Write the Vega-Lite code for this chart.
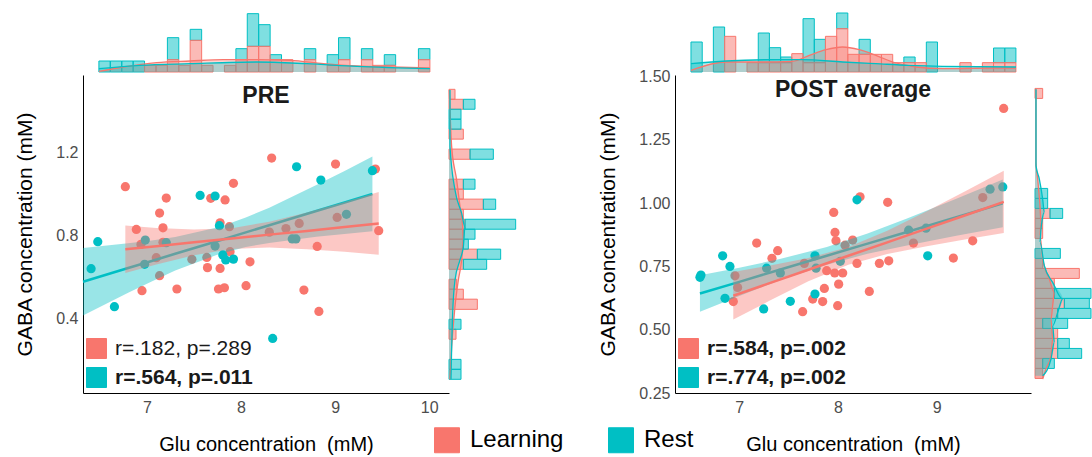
{
  "$schema": "https://vega.github.io/schema/vega-lite/v6.json",
  "background": "white",
  "padding": {"left": 14, "top": 0, "right": 0, "bottom": 0},
  "config": {
    "view": {"stroke": null},
    "font": "Liberation Sans",
    "axis": {"grid": false, "ticks": false, "domainColor": "#000000", "domainWidth": 1, "labelColor": "#4d4d4d", "labelFontSize": 16, "labelFont": "Liberation Sans", "titleFont": "Liberation Sans", "titleFontSize": 20, "titleFontWeight": "normal", "titleColor": "#000000"}
  },
  "datasets": {
    "pts": [
      {"panel": "PRE", "group": "Learning", "glu": 6.77, "gaba": 1.033},
      {"panel": "PRE", "group": "Learning", "glu": 6.887, "gaba": 0.827},
      {"panel": "PRE", "group": "Learning", "glu": 6.936, "gaba": 0.755},
      {"panel": "PRE", "group": "Learning", "glu": 6.947, "gaba": 0.532},
      {"panel": "PRE", "group": "Learning", "glu": 7.099, "gaba": 0.691},
      {"panel": "PRE", "group": "Learning", "glu": 7.134, "gaba": 0.906},
      {"panel": "PRE", "group": "Learning", "glu": 7.17, "gaba": 0.835},
      {"panel": "PRE", "group": "Learning", "glu": 7.205, "gaba": 0.978},
      {"panel": "PRE", "group": "Learning", "glu": 7.17, "gaba": 0.765},
      {"panel": "PRE", "group": "Learning", "glu": 7.134, "gaba": 0.604},
      {"panel": "PRE", "group": "Learning", "glu": 7.318, "gaba": 0.54},
      {"panel": "PRE", "group": "Learning", "glu": 7.477, "gaba": 0.683},
      {"panel": "PRE", "group": "Learning", "glu": 7.636, "gaba": 0.692},
      {"panel": "PRE", "group": "Learning", "glu": 7.643, "gaba": 0.643},
      {"panel": "PRE", "group": "Learning", "glu": 7.678, "gaba": 0.977},
      {"panel": "PRE", "group": "Learning", "glu": 7.777, "gaba": 0.639},
      {"panel": "PRE", "group": "Learning", "glu": 7.76, "gaba": 0.54},
      {"panel": "PRE", "group": "Learning", "glu": 7.823, "gaba": 0.546},
      {"panel": "PRE", "group": "Learning", "glu": 7.777, "gaba": 0.859},
      {"panel": "PRE", "group": "Learning", "glu": 7.83, "gaba": 0.969},
      {"panel": "PRE", "group": "Learning", "glu": 7.919, "gaba": 1.049},
      {"panel": "PRE", "group": "Learning", "glu": 7.876, "gaba": 0.84},
      {"panel": "PRE", "group": "Learning", "glu": 7.883, "gaba": 0.72},
      {"panel": "PRE", "group": "Learning", "glu": 8.053, "gaba": 0.556},
      {"panel": "PRE", "group": "Learning", "glu": 8.095, "gaba": 0.671},
      {"panel": "PRE", "group": "Learning", "glu": 8.3, "gaba": 0.814},
      {"panel": "PRE", "group": "Learning", "glu": 8.325, "gaba": 1.171},
      {"panel": "PRE", "group": "Learning", "glu": 8.477, "gaba": 0.831},
      {"panel": "PRE", "group": "Learning", "glu": 8.618, "gaba": 0.856},
      {"panel": "PRE", "group": "Learning", "glu": 8.668, "gaba": 0.535},
      {"panel": "PRE", "group": "Learning", "glu": 8.809, "gaba": 0.745},
      {"panel": "PRE", "group": "Learning", "glu": 8.827, "gaba": 0.432},
      {"panel": "PRE", "group": "Learning", "glu": 9.004, "gaba": 1.142},
      {"panel": "PRE", "group": "Learning", "glu": 9.021, "gaba": 0.885},
      {"panel": "PRE", "group": "Learning", "glu": 9.428, "gaba": 1.118},
      {"panel": "PRE", "group": "Learning", "glu": 9.463, "gaba": 0.821},
      {"panel": "PRE", "group": "Rest", "glu": 6.406, "gaba": 0.638},
      {"panel": "PRE", "group": "Rest", "glu": 6.477, "gaba": 0.768},
      {"panel": "PRE", "group": "Rest", "glu": 6.654, "gaba": 0.455},
      {"panel": "PRE", "group": "Rest", "glu": 6.982, "gaba": 0.776},
      {"panel": "PRE", "group": "Rest", "glu": 6.975, "gaba": 0.659},
      {"panel": "PRE", "group": "Rest", "glu": 7.205, "gaba": 0.763},
      {"panel": "PRE", "group": "Rest", "glu": 7.565, "gaba": 0.991},
      {"panel": "PRE", "group": "Rest", "glu": 7.724, "gaba": 0.988},
      {"panel": "PRE", "group": "Rest", "glu": 7.724, "gaba": 0.747},
      {"panel": "PRE", "group": "Rest", "glu": 7.77, "gaba": 0.845},
      {"panel": "PRE", "group": "Rest", "glu": 7.806, "gaba": 0.704},
      {"panel": "PRE", "group": "Rest", "glu": 7.837, "gaba": 0.68},
      {"panel": "PRE", "group": "Rest", "glu": 7.919, "gaba": 0.684},
      {"panel": "PRE", "group": "Rest", "glu": 8.336, "gaba": 0.302},
      {"panel": "PRE", "group": "Rest", "glu": 8.544, "gaba": 0.781},
      {"panel": "PRE", "group": "Rest", "glu": 8.583, "gaba": 0.781},
      {"panel": "PRE", "group": "Rest", "glu": 8.59, "gaba": 1.129},
      {"panel": "PRE", "group": "Rest", "glu": 8.848, "gaba": 1.065},
      {"panel": "PRE", "group": "Rest", "glu": 9.12, "gaba": 0.9},
      {"panel": "PRE", "group": "Rest", "glu": 9.396, "gaba": 1.11},
      {"panel": "POST", "group": "Learning", "glu": 6.939, "gaba": 0.611},
      {"panel": "POST", "group": "Learning", "glu": 6.956, "gaba": 0.713},
      {"panel": "POST", "group": "Learning", "glu": 6.983, "gaba": 0.667},
      {"panel": "POST", "group": "Learning", "glu": 7.176, "gaba": 0.842},
      {"panel": "POST", "group": "Learning", "glu": 7.331, "gaba": 0.782},
      {"panel": "POST", "group": "Learning", "glu": 7.389, "gaba": 0.812},
      {"panel": "POST", "group": "Learning", "glu": 7.642, "gaba": 0.571},
      {"panel": "POST", "group": "Learning", "glu": 7.659, "gaba": 0.762},
      {"panel": "POST", "group": "Learning", "glu": 7.744, "gaba": 0.621},
      {"panel": "POST", "group": "Learning", "glu": 7.845, "gaba": 0.611},
      {"panel": "POST", "group": "Learning", "glu": 7.862, "gaba": 0.663},
      {"panel": "POST", "group": "Learning", "glu": 7.886, "gaba": 0.733},
      {"panel": "POST", "group": "Learning", "glu": 7.957, "gaba": 0.963},
      {"panel": "POST", "group": "Learning", "glu": 7.97, "gaba": 0.884},
      {"panel": "POST", "group": "Learning", "glu": 7.98, "gaba": 0.851},
      {"panel": "POST", "group": "Learning", "glu": 7.967, "gaba": 0.724},
      {"panel": "POST", "group": "Learning", "glu": 8.007, "gaba": 0.68},
      {"panel": "POST", "group": "Learning", "glu": 7.997, "gaba": 0.595},
      {"panel": "POST", "group": "Learning", "glu": 8.048, "gaba": 0.724},
      {"panel": "POST", "group": "Learning", "glu": 8.072, "gaba": 0.834},
      {"panel": "POST", "group": "Learning", "glu": 8.149, "gaba": 0.854},
      {"panel": "POST", "group": "Learning", "glu": 8.193, "gaba": 0.762},
      {"panel": "POST", "group": "Learning", "glu": 8.224, "gaba": 1.025},
      {"panel": "POST", "group": "Learning", "glu": 8.318, "gaba": 0.651},
      {"panel": "POST", "group": "Learning", "glu": 8.42, "gaba": 0.762},
      {"panel": "POST", "group": "Learning", "glu": 8.515, "gaba": 0.772},
      {"panel": "POST", "group": "Learning", "glu": 8.504, "gaba": 1.003},
      {"panel": "POST", "group": "Learning", "glu": 8.765, "gaba": 0.842},
      {"panel": "POST", "group": "Learning", "glu": 9.17, "gaba": 0.783},
      {"panel": "POST", "group": "Learning", "glu": 9.366, "gaba": 0.851},
      {"panel": "POST", "group": "Learning", "glu": 9.468, "gaba": 1.022},
      {"panel": "POST", "group": "Learning", "glu": 9.68, "gaba": 1.374},
      {"panel": "POST", "group": "Rest", "glu": 6.601, "gaba": 0.707},
      {"panel": "POST", "group": "Rest", "glu": 6.611, "gaba": 0.716},
      {"panel": "POST", "group": "Rest", "glu": 6.831, "gaba": 0.792},
      {"panel": "POST", "group": "Rest", "glu": 6.905, "gaba": 0.75},
      {"panel": "POST", "group": "Rest", "glu": 6.855, "gaba": 0.624},
      {"panel": "POST", "group": "Rest", "glu": 7.247, "gaba": 0.582},
      {"panel": "POST", "group": "Rest", "glu": 7.277, "gaba": 0.743},
      {"panel": "POST", "group": "Rest", "glu": 7.416, "gaba": 0.724},
      {"panel": "POST", "group": "Rest", "glu": 7.517, "gaba": 0.612},
      {"panel": "POST", "group": "Rest", "glu": 7.767, "gaba": 0.792},
      {"panel": "POST", "group": "Rest", "glu": 7.778, "gaba": 0.743},
      {"panel": "POST", "group": "Rest", "glu": 7.767, "gaba": 0.641},
      {"panel": "POST", "group": "Rest", "glu": 8.024, "gaba": 0.77},
      {"panel": "POST", "group": "Rest", "glu": 8.193, "gaba": 1.013},
      {"panel": "POST", "group": "Rest", "glu": 8.717, "gaba": 0.893},
      {"panel": "POST", "group": "Rest", "glu": 8.893, "gaba": 0.901},
      {"panel": "POST", "group": "Rest", "glu": 8.91, "gaba": 0.792},
      {"panel": "POST", "group": "Rest", "glu": 9.542, "gaba": 1.055},
      {"panel": "POST", "group": "Rest", "glu": 9.671, "gaba": 1.064}
    ],
    "fit": [
      {"panel": "PRE", "group": "Rest", "glu": 6.32, "fit": 0.575, "lo": 0.412, "hi": 0.738},
      {"panel": "PRE", "group": "Rest", "glu": 6.8, "fit": 0.641, "lo": 0.522, "hi": 0.76},
      {"panel": "PRE", "group": "Rest", "glu": 7.05, "fit": 0.675, "lo": 0.576, "hi": 0.774},
      {"panel": "PRE", "group": "Rest", "glu": 7.3, "fit": 0.71, "lo": 0.629, "hi": 0.791},
      {"panel": "PRE", "group": "Rest", "glu": 7.77, "fit": 0.774, "lo": 0.709, "hi": 0.839},
      {"panel": "PRE", "group": "Rest", "glu": 8.05, "fit": 0.813, "lo": 0.742, "hi": 0.884},
      {"panel": "PRE", "group": "Rest", "glu": 8.3, "fit": 0.847, "lo": 0.762, "hi": 0.932},
      {"panel": "PRE", "group": "Rest", "glu": 8.8, "fit": 0.916, "lo": 0.792, "hi": 1.041},
      {"panel": "PRE", "group": "Rest", "glu": 9.1, "fit": 0.957, "lo": 0.805, "hi": 1.109},
      {"panel": "PRE", "group": "Rest", "glu": 9.396, "fit": 0.998, "lo": 0.818, "hi": 1.178},
      {"panel": "PRE", "group": "Learning", "glu": 6.77, "fit": 0.731, "lo": 0.617, "hi": 0.846},
      {"panel": "PRE", "group": "Learning", "glu": 7.1, "fit": 0.746, "lo": 0.658, "hi": 0.834},
      {"panel": "PRE", "group": "Learning", "glu": 7.5, "fit": 0.765, "lo": 0.703, "hi": 0.827},
      {"panel": "PRE", "group": "Learning", "glu": 7.9, "fit": 0.783, "lo": 0.733, "hi": 0.833},
      {"panel": "PRE", "group": "Learning", "glu": 8.3, "fit": 0.802, "lo": 0.74, "hi": 0.864},
      {"panel": "PRE", "group": "Learning", "glu": 8.7, "fit": 0.82, "lo": 0.732, "hi": 0.908},
      {"panel": "PRE", "group": "Learning", "glu": 9.1, "fit": 0.839, "lo": 0.719, "hi": 0.959},
      {"panel": "PRE", "group": "Learning", "glu": 9.463, "fit": 0.856, "lo": 0.705, "hi": 1.007},
      {"panel": "POST", "group": "Rest", "glu": 6.601, "fit": 0.643, "lo": 0.571, "hi": 0.715},
      {"panel": "POST", "group": "Rest", "glu": 7.0, "fit": 0.689, "lo": 0.633, "hi": 0.745},
      {"panel": "POST", "group": "Rest", "glu": 7.4, "fit": 0.736, "lo": 0.694, "hi": 0.778},
      {"panel": "POST", "group": "Rest", "glu": 7.887, "fit": 0.792, "lo": 0.757, "hi": 0.827},
      {"panel": "POST", "group": "Rest", "glu": 8.3, "fit": 0.84, "lo": 0.8, "hi": 0.88},
      {"panel": "POST", "group": "Rest", "glu": 8.7, "fit": 0.886, "lo": 0.833, "hi": 0.939},
      {"panel": "POST", "group": "Rest", "glu": 9.2, "fit": 0.944, "lo": 0.871, "hi": 1.017},
      {"panel": "POST", "group": "Rest", "glu": 9.671, "fit": 0.999, "lo": 0.905, "hi": 1.093},
      {"panel": "POST", "group": "Learning", "glu": 6.939, "fit": 0.634, "lo": 0.54, "hi": 0.728},
      {"panel": "POST", "group": "Learning", "glu": 7.3, "fit": 0.683, "lo": 0.613, "hi": 0.753},
      {"panel": "POST", "group": "Learning", "glu": 7.7, "fit": 0.737, "lo": 0.691, "hi": 0.783},
      {"panel": "POST", "group": "Learning", "glu": 8.105, "fit": 0.792, "lo": 0.757, "hi": 0.827},
      {"panel": "POST", "group": "Learning", "glu": 8.5, "fit": 0.845, "lo": 0.799, "hi": 0.891},
      {"panel": "POST", "group": "Learning", "glu": 8.9, "fit": 0.899, "lo": 0.83, "hi": 0.968},
      {"panel": "POST", "group": "Learning", "glu": 9.3, "fit": 0.953, "lo": 0.857, "hi": 1.049},
      {"panel": "POST", "group": "Learning", "glu": 9.681, "fit": 1.005, "lo": 0.882, "hi": 1.128}
    ],
    "histTop": [
      {"panel": "PRE", "group": "Rest", "x0": 6.489, "x1": 6.61, "n": 3.3},
      {"panel": "PRE", "group": "Rest", "x0": 6.61, "x1": 6.732, "n": 3.3},
      {"panel": "PRE", "group": "Rest", "x0": 6.732, "x1": 6.853, "n": 3.3},
      {"panel": "PRE", "group": "Rest", "x0": 6.853, "x1": 6.974, "n": 3.3},
      {"panel": "PRE", "group": "Rest", "x0": 7.217, "x1": 7.338, "n": 6.6},
      {"panel": "PRE", "group": "Rest", "x0": 7.459, "x1": 7.581, "n": 3.3},
      {"panel": "PRE", "group": "Rest", "x0": 7.945, "x1": 8.066, "n": 3.3},
      {"panel": "PRE", "group": "Rest", "x0": 8.066, "x1": 8.187, "n": 9.8},
      {"panel": "PRE", "group": "Rest", "x0": 8.187, "x1": 8.309, "n": 6.5},
      {"panel": "PRE", "group": "Rest", "x0": 8.309, "x1": 8.43, "n": 1.5},
      {"panel": "PRE", "group": "Rest", "x0": 8.672, "x1": 8.794, "n": 3.3},
      {"panel": "PRE", "group": "Rest", "x0": 8.915, "x1": 9.036, "n": 3.2},
      {"panel": "PRE", "group": "Rest", "x0": 9.036, "x1": 9.158, "n": 6.6},
      {"panel": "PRE", "group": "Rest", "x0": 9.279, "x1": 9.4, "n": 3.3},
      {"panel": "PRE", "group": "Rest", "x0": 9.522, "x1": 9.643, "n": 3.2},
      {"panel": "PRE", "group": "Rest", "x0": 9.885, "x1": 10.007, "n": 3.3},
      {"panel": "PRE", "group": "Learning", "x0": 6.974, "x1": 7.096, "n": 2.0},
      {"panel": "PRE", "group": "Learning", "x0": 7.096, "x1": 7.217, "n": 2.0},
      {"panel": "PRE", "group": "Learning", "x0": 7.217, "x1": 7.338, "n": 3.7},
      {"panel": "PRE", "group": "Learning", "x0": 7.338, "x1": 7.459, "n": 2.0},
      {"panel": "PRE", "group": "Learning", "x0": 7.459, "x1": 7.581, "n": 9.5},
      {"panel": "PRE", "group": "Learning", "x0": 7.581, "x1": 7.702, "n": 2.0},
      {"panel": "PRE", "group": "Learning", "x0": 7.823, "x1": 7.945, "n": 2.0},
      {"panel": "PRE", "group": "Learning", "x0": 7.945, "x1": 8.066, "n": 3.7},
      {"panel": "PRE", "group": "Learning", "x0": 8.066, "x1": 8.187, "n": 7.7},
      {"panel": "PRE", "group": "Learning", "x0": 8.187, "x1": 8.309, "n": 7.7},
      {"panel": "PRE", "group": "Learning", "x0": 8.309, "x1": 8.43, "n": 3.7},
      {"panel": "PRE", "group": "Learning", "x0": 8.43, "x1": 8.551, "n": 3.7},
      {"panel": "PRE", "group": "Learning", "x0": 8.672, "x1": 8.794, "n": 3.7},
      {"panel": "PRE", "group": "Learning", "x0": 8.915, "x1": 9.036, "n": 2.0},
      {"panel": "PRE", "group": "Learning", "x0": 9.036, "x1": 9.158, "n": 3.7},
      {"panel": "PRE", "group": "Learning", "x0": 9.279, "x1": 9.4, "n": 3.7},
      {"panel": "PRE", "group": "Learning", "x0": 9.4, "x1": 9.522, "n": 2.0},
      {"panel": "PRE", "group": "Learning", "x0": 9.522, "x1": 9.643, "n": 2.0},
      {"panel": "PRE", "group": "Learning", "x0": 9.885, "x1": 10.007, "n": 3.7},
      {"panel": "POST", "group": "Rest", "x0": 6.51, "x1": 6.624, "n": 9.0},
      {"panel": "POST", "group": "Rest", "x0": 6.737, "x1": 6.851, "n": 13.5},
      {"panel": "POST", "group": "Rest", "x0": 7.192, "x1": 7.305, "n": 8.9},
      {"panel": "POST", "group": "Rest", "x0": 7.305, "x1": 7.419, "n": 4.5},
      {"panel": "POST", "group": "Rest", "x0": 7.419, "x1": 7.532, "n": 1.7},
      {"panel": "POST", "group": "Rest", "x0": 7.646, "x1": 7.76, "n": 13.2},
      {"panel": "POST", "group": "Rest", "x0": 7.76, "x1": 7.873, "n": 7.0},
      {"panel": "POST", "group": "Rest", "x0": 7.987, "x1": 8.1, "n": 4.7},
      {"panel": "POST", "group": "Rest", "x0": 8.214, "x1": 8.328, "n": 4.5},
      {"panel": "POST", "group": "Rest", "x0": 8.668, "x1": 8.782, "n": 1.7},
      {"panel": "POST", "group": "Rest", "x0": 8.896, "x1": 9.009, "n": 9.0},
      {"panel": "POST", "group": "Rest", "x0": 9.577, "x1": 9.691, "n": 4.4},
      {"panel": "POST", "group": "Rest", "x0": 9.691, "x1": 9.804, "n": 4.4},
      {"panel": "POST", "group": "Learning", "x0": 6.851, "x1": 6.964, "n": 10.7},
      {"panel": "POST", "group": "Learning", "x0": 7.078, "x1": 7.192, "n": 2.8},
      {"panel": "POST", "group": "Learning", "x0": 7.192, "x1": 7.305, "n": 2.8},
      {"panel": "POST", "group": "Learning", "x0": 7.305, "x1": 7.419, "n": 2.8},
      {"panel": "POST", "group": "Learning", "x0": 7.419, "x1": 7.532, "n": 2.8},
      {"panel": "POST", "group": "Learning", "x0": 7.532, "x1": 7.646, "n": 5.5},
      {"panel": "POST", "group": "Learning", "x0": 7.646, "x1": 7.76, "n": 2.8},
      {"panel": "POST", "group": "Learning", "x0": 7.76, "x1": 7.873, "n": 2.8},
      {"panel": "POST", "group": "Learning", "x0": 7.873, "x1": 7.987, "n": 10.7},
      {"panel": "POST", "group": "Learning", "x0": 7.987, "x1": 8.1, "n": 13.0},
      {"panel": "POST", "group": "Learning", "x0": 8.1, "x1": 8.214, "n": 5.3},
      {"panel": "POST", "group": "Learning", "x0": 8.214, "x1": 8.328, "n": 5.3},
      {"panel": "POST", "group": "Learning", "x0": 8.328, "x1": 8.441, "n": 5.3},
      {"panel": "POST", "group": "Learning", "x0": 8.441, "x1": 8.555, "n": 5.3},
      {"panel": "POST", "group": "Learning", "x0": 8.555, "x1": 8.668, "n": 2.8},
      {"panel": "POST", "group": "Learning", "x0": 8.668, "x1": 8.782, "n": 2.8},
      {"panel": "POST", "group": "Learning", "x0": 8.782, "x1": 8.896, "n": 2.8},
      {"panel": "POST", "group": "Learning", "x0": 9.236, "x1": 9.35, "n": 2.8},
      {"panel": "POST", "group": "Learning", "x0": 9.464, "x1": 9.577, "n": 2.8},
      {"panel": "POST", "group": "Learning", "x0": 9.577, "x1": 9.691, "n": 2.8},
      {"panel": "POST", "group": "Learning", "x0": 9.691, "x1": 9.804, "n": 2.8}
    ],
    "histSide": [
      {"panel": "PRE", "group": "Learning", "y0": 1.454, "y1": 1.502, "n": 1.8},
      {"panel": "PRE", "group": "Learning", "y0": 1.406, "y1": 1.454, "n": 4.3},
      {"panel": "PRE", "group": "Learning", "y0": 1.262, "y1": 1.31, "n": 4.3},
      {"panel": "PRE", "group": "Learning", "y0": 1.165, "y1": 1.214, "n": 6.3},
      {"panel": "PRE", "group": "Learning", "y0": 1.021, "y1": 1.069, "n": 4.3},
      {"panel": "PRE", "group": "Learning", "y0": 0.973, "y1": 1.021, "n": 4.3},
      {"panel": "PRE", "group": "Learning", "y0": 0.924, "y1": 0.973, "n": 10.3},
      {"panel": "PRE", "group": "Learning", "y0": 0.876, "y1": 0.924, "n": 4.3},
      {"panel": "PRE", "group": "Learning", "y0": 0.828, "y1": 0.876, "n": 4.8},
      {"panel": "PRE", "group": "Learning", "y0": 0.78, "y1": 0.828, "n": 4.3},
      {"panel": "PRE", "group": "Learning", "y0": 0.732, "y1": 0.78, "n": 4.3},
      {"panel": "PRE", "group": "Learning", "y0": 0.683, "y1": 0.732, "n": 8.5},
      {"panel": "PRE", "group": "Learning", "y0": 0.635, "y1": 0.683, "n": 4.3},
      {"panel": "PRE", "group": "Learning", "y0": 0.539, "y1": 0.587, "n": 2.3},
      {"panel": "PRE", "group": "Learning", "y0": 0.491, "y1": 0.539, "n": 4.3},
      {"panel": "PRE", "group": "Learning", "y0": 0.442, "y1": 0.491, "n": 8.5},
      {"panel": "PRE", "group": "Learning", "y0": 0.298, "y1": 0.346, "n": 2.1},
      {"panel": "PRE", "group": "Rest", "y0": 1.406, "y1": 1.454, "n": 3.5},
      {"panel": "PRE", "group": "Rest", "y0": 1.358, "y1": 1.406, "n": 3.6},
      {"panel": "PRE", "group": "Rest", "y0": 1.31, "y1": 1.358, "n": 3.6},
      {"panel": "PRE", "group": "Rest", "y0": 1.165, "y1": 1.214, "n": 7.0},
      {"panel": "PRE", "group": "Rest", "y0": 1.021, "y1": 1.069, "n": 3.5},
      {"panel": "PRE", "group": "Rest", "y0": 0.924, "y1": 0.973, "n": 3.7},
      {"panel": "PRE", "group": "Rest", "y0": 0.828, "y1": 0.876, "n": 15.2},
      {"panel": "PRE", "group": "Rest", "y0": 0.78, "y1": 0.828, "n": 3.5},
      {"panel": "PRE", "group": "Rest", "y0": 0.732, "y1": 0.78, "n": 1.5},
      {"panel": "PRE", "group": "Rest", "y0": 0.683, "y1": 0.732, "n": 7.0},
      {"panel": "PRE", "group": "Rest", "y0": 0.635, "y1": 0.683, "n": 7.0},
      {"panel": "PRE", "group": "Rest", "y0": 0.346, "y1": 0.394, "n": 3.6},
      {"panel": "PRE", "group": "Rest", "y0": 0.153, "y1": 0.201, "n": 3.6},
      {"panel": "PRE", "group": "Rest", "y0": 0.105, "y1": 0.153, "n": 3.6},
      {"panel": "POST", "group": "Learning", "y0": 1.4135, "y1": 1.453, "n": 2.3},
      {"panel": "POST", "group": "Learning", "y0": 0.9395, "y1": 0.979, "n": 4.5},
      {"panel": "POST", "group": "Learning", "y0": 0.9, "y1": 0.9395, "n": 2.3},
      {"panel": "POST", "group": "Learning", "y0": 0.8605, "y1": 0.9, "n": 2.3},
      {"panel": "POST", "group": "Learning", "y0": 0.742, "y1": 0.7815, "n": 2.3},
      {"panel": "POST", "group": "Learning", "y0": 0.7025, "y1": 0.742, "n": 13.3},
      {"panel": "POST", "group": "Learning", "y0": 0.663, "y1": 0.7025, "n": 5.8},
      {"panel": "POST", "group": "Learning", "y0": 0.6235, "y1": 0.663, "n": 5.8},
      {"panel": "POST", "group": "Learning", "y0": 0.584, "y1": 0.6235, "n": 8.8},
      {"panel": "POST", "group": "Learning", "y0": 0.5445, "y1": 0.584, "n": 6.8},
      {"panel": "POST", "group": "Learning", "y0": 0.505, "y1": 0.5445, "n": 2.3},
      {"panel": "POST", "group": "Learning", "y0": 0.4655, "y1": 0.505, "n": 6.8},
      {"panel": "POST", "group": "Learning", "y0": 0.426, "y1": 0.4655, "n": 6.8},
      {"panel": "POST", "group": "Learning", "y0": 0.3865, "y1": 0.426, "n": 6.8},
      {"panel": "POST", "group": "Learning", "y0": 0.347, "y1": 0.3865, "n": 2.3},
      {"panel": "POST", "group": "Learning", "y0": 0.3075, "y1": 0.347, "n": 2.3},
      {"panel": "POST", "group": "Rest", "y0": 1.0185, "y1": 1.058, "n": 3.8},
      {"panel": "POST", "group": "Rest", "y0": 0.979, "y1": 1.0185, "n": 3.8},
      {"panel": "POST", "group": "Rest", "y0": 0.9395, "y1": 0.979, "n": 3.8},
      {"panel": "POST", "group": "Rest", "y0": 0.7815, "y1": 0.821, "n": 7.6},
      {"panel": "POST", "group": "Rest", "y0": 0.6235, "y1": 0.663, "n": 11.0},
      {"panel": "POST", "group": "Rest", "y0": 0.584, "y1": 0.6235, "n": 7.5},
      {"panel": "POST", "group": "Rest", "y0": 0.5445, "y1": 0.584, "n": 10.0},
      {"panel": "POST", "group": "Rest", "y0": 0.505, "y1": 0.5445, "n": 7.5},
      {"panel": "POST", "group": "Rest", "y0": 0.426, "y1": 0.4655, "n": 3.5},
      {"panel": "POST", "group": "Rest", "y0": 0.3865, "y1": 0.426, "n": 7.2},
      {"panel": "POST", "group": "Rest", "y0": 0.347, "y1": 0.3865, "n": 3.5}
    ],
    "densTop": [
      {"panel": "PRE", "group": "Learning", "x": 6.489, "d": 0.2},
      {"panel": "PRE", "group": "Learning", "x": 6.748, "d": 1.5},
      {"panel": "PRE", "group": "Learning", "x": 7.103, "d": 2.8},
      {"panel": "PRE", "group": "Learning", "x": 7.457, "d": 3.3},
      {"panel": "PRE", "group": "Learning", "x": 7.812, "d": 3.7},
      {"panel": "PRE", "group": "Learning", "x": 8.167, "d": 3.7},
      {"panel": "PRE", "group": "Learning", "x": 8.521, "d": 3.5},
      {"panel": "PRE", "group": "Learning", "x": 8.876, "d": 2.5},
      {"panel": "PRE", "group": "Learning", "x": 9.231, "d": 1.8},
      {"panel": "PRE", "group": "Learning", "x": 9.585, "d": 1.5},
      {"panel": "PRE", "group": "Learning", "x": 10.007, "d": 1.2},
      {"panel": "PRE", "group": "Rest", "x": 6.489, "d": 1.0},
      {"panel": "PRE", "group": "Rest", "x": 6.926, "d": 2.0},
      {"panel": "PRE", "group": "Rest", "x": 7.457, "d": 2.5},
      {"panel": "PRE", "group": "Rest", "x": 8.167, "d": 3.0},
      {"panel": "PRE", "group": "Rest", "x": 8.699, "d": 2.5},
      {"panel": "PRE", "group": "Rest", "x": 9.231, "d": 1.7},
      {"panel": "PRE", "group": "Rest", "x": 10.007, "d": 1.0},
      {"panel": "POST", "group": "Learning", "x": 6.51, "d": 0.5},
      {"panel": "POST", "group": "Learning", "x": 6.865, "d": 3.0},
      {"panel": "POST", "group": "Learning", "x": 7.203, "d": 3.0},
      {"panel": "POST", "group": "Learning", "x": 7.54, "d": 3.2},
      {"panel": "POST", "group": "Learning", "x": 7.71, "d": 5.0},
      {"panel": "POST", "group": "Learning", "x": 7.879, "d": 6.7},
      {"panel": "POST", "group": "Learning", "x": 8.048, "d": 7.5},
      {"panel": "POST", "group": "Learning", "x": 8.216, "d": 6.7},
      {"panel": "POST", "group": "Learning", "x": 8.385, "d": 5.0},
      {"panel": "POST", "group": "Learning", "x": 8.554, "d": 3.0},
      {"panel": "POST", "group": "Learning", "x": 8.791, "d": 1.5},
      {"panel": "POST", "group": "Learning", "x": 9.061, "d": 1.0},
      {"panel": "POST", "group": "Learning", "x": 9.568, "d": 1.2},
      {"panel": "POST", "group": "Learning", "x": 9.805, "d": 1.2},
      {"panel": "POST", "group": "Rest", "x": 6.51, "d": 2.5},
      {"panel": "POST", "group": "Rest", "x": 6.865, "d": 3.3},
      {"panel": "POST", "group": "Rest", "x": 7.372, "d": 3.7},
      {"panel": "POST", "group": "Rest", "x": 7.642, "d": 3.7},
      {"panel": "POST", "group": "Rest", "x": 8.048, "d": 3.0},
      {"panel": "POST", "group": "Rest", "x": 8.385, "d": 2.5},
      {"panel": "POST", "group": "Rest", "x": 8.723, "d": 2.0},
      {"panel": "POST", "group": "Rest", "x": 9.061, "d": 1.7},
      {"panel": "POST", "group": "Rest", "x": 9.805, "d": 1.5}
    ],
    "densSide": [
      {"panel": "PRE", "group": "Learning", "y": 0.105, "d": 0.3},
      {"panel": "PRE", "group": "Learning", "y": 0.262, "d": 0.8},
      {"panel": "PRE", "group": "Learning", "y": 0.455, "d": 1.8},
      {"panel": "PRE", "group": "Learning", "y": 0.583, "d": 2.8},
      {"panel": "PRE", "group": "Learning", "y": 0.68, "d": 3.8},
      {"panel": "PRE", "group": "Learning", "y": 0.776, "d": 4.3},
      {"panel": "PRE", "group": "Learning", "y": 0.84, "d": 4.1},
      {"panel": "PRE", "group": "Learning", "y": 0.937, "d": 3.3},
      {"panel": "PRE", "group": "Learning", "y": 1.065, "d": 2.3},
      {"panel": "PRE", "group": "Learning", "y": 1.226, "d": 0.8},
      {"panel": "PRE", "group": "Learning", "y": 1.499, "d": 0.1},
      {"panel": "PRE", "group": "Rest", "y": 0.105, "d": 0.6},
      {"panel": "PRE", "group": "Rest", "y": 0.262, "d": 0.8},
      {"panel": "PRE", "group": "Rest", "y": 0.423, "d": 1.1},
      {"panel": "PRE", "group": "Rest", "y": 0.583, "d": 1.8},
      {"panel": "PRE", "group": "Rest", "y": 0.68, "d": 3.3},
      {"panel": "PRE", "group": "Rest", "y": 0.744, "d": 4.3},
      {"panel": "PRE", "group": "Rest", "y": 0.84, "d": 4.8},
      {"panel": "PRE", "group": "Rest", "y": 0.904, "d": 3.8},
      {"panel": "PRE", "group": "Rest", "y": 1.017, "d": 1.8},
      {"panel": "PRE", "group": "Rest", "y": 1.226, "d": 0.3},
      {"panel": "PRE", "group": "Rest", "y": 1.499, "d": 0.3},
      {"panel": "POST", "group": "Learning", "y": 0.305, "d": 2.3},
      {"panel": "POST", "group": "Learning", "y": 0.345, "d": 3.3},
      {"panel": "POST", "group": "Learning", "y": 0.397, "d": 4.8},
      {"panel": "POST", "group": "Learning", "y": 0.463, "d": 5.3},
      {"panel": "POST", "group": "Learning", "y": 0.542, "d": 4.8},
      {"panel": "POST", "group": "Learning", "y": 0.595, "d": 5.3},
      {"panel": "POST", "group": "Learning", "y": 0.647, "d": 5.8},
      {"panel": "POST", "group": "Learning", "y": 0.7, "d": 4.3},
      {"panel": "POST", "group": "Learning", "y": 0.779, "d": 2.3},
      {"panel": "POST", "group": "Learning", "y": 0.871, "d": 1.5},
      {"panel": "POST", "group": "Learning", "y": 0.924, "d": 1.8},
      {"panel": "POST", "group": "Learning", "y": 0.99, "d": 1.5},
      {"panel": "POST", "group": "Learning", "y": 1.095, "d": 0.8},
      {"panel": "POST", "group": "Learning", "y": 1.161, "d": 0.3},
      {"panel": "POST", "group": "Learning", "y": 1.45, "d": 0.3},
      {"panel": "POST", "group": "Rest", "y": 0.318, "d": 2.3},
      {"panel": "POST", "group": "Rest", "y": 0.384, "d": 4.8},
      {"panel": "POST", "group": "Rest", "y": 0.45, "d": 5.8},
      {"panel": "POST", "group": "Rest", "y": 0.516, "d": 5.3},
      {"panel": "POST", "group": "Rest", "y": 0.568, "d": 6.8},
      {"panel": "POST", "group": "Rest", "y": 0.621, "d": 8.3},
      {"panel": "POST", "group": "Rest", "y": 0.687, "d": 5.3},
      {"panel": "POST", "group": "Rest", "y": 0.753, "d": 2.8},
      {"panel": "POST", "group": "Rest", "y": 0.845, "d": 1.5},
      {"panel": "POST", "group": "Rest", "y": 0.897, "d": 1.8},
      {"panel": "POST", "group": "Rest", "y": 0.963, "d": 2.8},
      {"panel": "POST", "group": "Rest", "y": 1.016, "d": 2.3},
      {"panel": "POST", "group": "Rest", "y": 1.095, "d": 1.3},
      {"panel": "POST", "group": "Rest", "y": 1.147, "d": 0.3},
      {"panel": "POST", "group": "Rest", "y": 1.45, "d": 0.3}
    ]
  },
  "columns": 4,
  "bounds": "flush",
  "align": "each",
  "spacing": {"row": 3, "column": 0},
  "resolve": {
    "scale": {"x": "independent", "y": "independent", "fill": "independent", "stroke": "independent"},
    "legend": {"fill": "independent", "stroke": "independent"}
  },
  "concat": [
    {
      "width": 366, "height": 72,
      "layer": [
        {
          "data": {"name": "histTop"},
          "transform": [{"filter": "datum.panel == 'PRE'"}, {"stack": "n", "groupby": ["x0"], "sort": [{"field": "group", "order": "ascending"}], "as": ["s0", "s1"]}],
          "mark": {"type": "rect", "opacity": 1, "fillOpacity": 0.5, "strokeWidth": 1},
          "encoding": {
            "x": {"field": "x0", "type": "quantitative", "scale": {"domain": [6.32, 10.21], "nice": false, "zero": false}, "axis": null},
            "x2": {"field": "x1"},
            "y": {"field": "s0", "type": "quantitative", "scale": {"domain": [0, 21.6], "nice": false}, "axis": null},
            "y2": {"field": "s1"},
            "fill": {"field": "group", "type": "nominal", "scale": {"domain": ["Learning", "Rest"], "range": ["#F8766D", "#00BFC4"]}, "legend": null},
            "stroke": {"field": "group", "type": "nominal", "scale": {"domain": ["Learning", "Rest"], "range": ["#F8766D", "#00BFC4"]}, "legend": null}
          }
        },
        {
          "data": {"name": "densTop"},
          "transform": [{"filter": "datum.panel == 'PRE'"}],
          "mark": {"type": "area", "fillOpacity": 0.3, "interpolate": "monotone"},
          "encoding": {
            "x": {"field": "x", "type": "quantitative"},
            "y": {"field": "d", "type": "quantitative", "stack": null},
            "fill": {"field": "group", "type": "nominal"}
          }
        },
        {
          "data": {"name": "densTop"},
          "transform": [{"filter": "datum.panel == 'PRE'"}],
          "mark": {"type": "line", "strokeWidth": 1.3, "interpolate": "monotone"},
          "encoding": {
            "x": {"field": "x", "type": "quantitative"},
            "y": {"field": "d", "type": "quantitative"},
            "stroke": {"field": "group", "type": "nominal"}
          }
        }
      ]
    },
    {
      "width": 226, "height": 72,
      "data": {"values": []},
      "mark": "point"
    },
    {
      "width": 356, "height": 72,
      "layer": [
        {
          "data": {"name": "histTop"},
          "transform": [{"filter": "datum.panel == 'POST'"}, {"stack": "n", "groupby": ["x0"], "sort": [{"field": "group", "order": "ascending"}], "as": ["s0", "s1"]}],
          "mark": {"type": "rect", "opacity": 1, "fillOpacity": 0.5, "strokeWidth": 1},
          "encoding": {
            "x": {"field": "x0", "type": "quantitative", "scale": {"domain": [6.348, 9.957], "nice": false, "zero": false}, "axis": null},
            "x2": {"field": "x1"},
            "y": {"field": "s0", "type": "quantitative", "scale": {"domain": [0, 21.6], "nice": false}, "axis": null},
            "y2": {"field": "s1"},
            "fill": {"field": "group", "type": "nominal", "scale": {"domain": ["Learning", "Rest"], "range": ["#F8766D", "#00BFC4"]}, "legend": null},
            "stroke": {"field": "group", "type": "nominal", "scale": {"domain": ["Learning", "Rest"], "range": ["#F8766D", "#00BFC4"]}, "legend": null}
          }
        },
        {
          "data": {"name": "densTop"},
          "transform": [{"filter": "datum.panel == 'POST'"}],
          "mark": {"type": "area", "fillOpacity": 0.3, "interpolate": "monotone"},
          "encoding": {
            "x": {"field": "x", "type": "quantitative"},
            "y": {"field": "d", "type": "quantitative", "stack": null},
            "fill": {"field": "group", "type": "nominal"}
          }
        },
        {
          "data": {"name": "densTop"},
          "transform": [{"filter": "datum.panel == 'POST'"}],
          "mark": {"type": "line", "strokeWidth": 1.3, "interpolate": "monotone"},
          "encoding": {
            "x": {"field": "x", "type": "quantitative"},
            "y": {"field": "d", "type": "quantitative"},
            "stroke": {"field": "group", "type": "nominal"}
          }
        }
      ]
    },
    {
      "width": 60, "height": 72,
      "data": {"values": []},
      "mark": "point"
    },
    {
      "width": 366, "height": 318,
      "title": {"text": "PRE", "frame": "group", "offset": -33, "fontSize": 23, "fontWeight": "bold", "font": "Liberation Sans", "color": "#1a1a1a"},
      "layer": [
        {
          "data": {"name": "pts"},
          "transform": [{"filter": "datum.panel == 'PRE'"}],
          "mark": {"type": "circle", "size": 85, "opacity": 1},
          "encoding": {
            "x": {"field": "glu", "type": "quantitative", "scale": {"domain": [6.32, 10.21], "nice": false, "zero": false}, "axis": {"title": "Glu concentration \u00a0(mM)", "values": [7, 8, 9, 10], "format": "d", "labelPadding": 6, "titlePadding": 19}},
            "y": {"field": "gaba", "type": "quantitative", "scale": {"domain": [0.039, 1.571], "nice": false, "zero": false}, "axis": {"title": "GABA concentration (mM)", "titleFontSize": 21, "values": [0.4, 0.8, 1.2], "format": ".1f", "labelPadding": 5, "titlePadding": 20}},
            "fill": {"field": "group", "type": "nominal", "scale": {"domain": ["Learning", "Rest"], "range": ["#F8766D", "#00BFC4"]},
              "legend": {"orient": "bottom-left", "offset": 3, "title": null, "symbolType": "square", "symbolSize": 400, "symbolOpacity": 1, "symbolStrokeColor": "#555555", "symbolStrokeWidth": 1, "labelFont": "Liberation Sans", "labelFontSize": 21, "labelColor": "#1a1a1a", "labelOffset": 8, "labelLimit": 400, "rowPadding": 4,
                "labelExpr": "datum.value == 'Learning' ? 'r=.182, p=.289' : 'r=.564, p=.011'",
                "encode": {"labels": {"update": {"fontWeight": {"signal": "datum.value == 'Rest' ? 'bold' : 'normal'"}}}, "symbols": {"update": {"opacity": {"value": 1}, "fillOpacity": {"value": 1}}}}}}
          }
        },
        {
          "data": {"name": "fit"},
          "transform": [{"filter": "datum.panel == 'PRE' && datum.group == 'Rest'"}],
          "mark": {"type": "area", "opacity": 0.4},
          "encoding": {
            "x": {"field": "glu", "type": "quantitative"},
            "y": {"field": "lo", "type": "quantitative"},
            "y2": {"field": "hi"},
            "fill": {"field": "group", "type": "nominal"}
          }
        },
        {
          "data": {"name": "fit"},
          "transform": [{"filter": "datum.panel == 'PRE' && datum.group == 'Rest'"}],
          "mark": {"type": "line", "strokeWidth": 2.5},
          "encoding": {
            "x": {"field": "glu", "type": "quantitative"},
            "y": {"field": "fit", "type": "quantitative"},
            "stroke": {"field": "group", "type": "nominal", "scale": {"domain": ["Learning", "Rest"], "range": ["#F8766D", "#00BFC4"]}, "legend": null}
          }
        },
        {
          "data": {"name": "fit"},
          "transform": [{"filter": "datum.panel == 'PRE' && datum.group == 'Learning'"}],
          "mark": {"type": "area", "opacity": 0.4},
          "encoding": {
            "x": {"field": "glu", "type": "quantitative"},
            "y": {"field": "lo", "type": "quantitative"},
            "y2": {"field": "hi"},
            "fill": {"field": "group", "type": "nominal"}
          }
        },
        {
          "data": {"name": "fit"},
          "transform": [{"filter": "datum.panel == 'PRE' && datum.group == 'Learning'"}],
          "mark": {"type": "line", "strokeWidth": 2.5},
          "encoding": {
            "x": {"field": "glu", "type": "quantitative"},
            "y": {"field": "fit", "type": "quantitative"},
            "stroke": {"field": "group", "type": "nominal"}
          }
        }
      ]
    },
    {
      "width": 226, "height": 318,
      "layer": [
        {
          "data": {"name": "histSide"},
          "transform": [{"filter": "datum.panel == 'PRE'"}, {"stack": "n", "groupby": ["y0"], "sort": [{"field": "group", "order": "ascending"}], "as": ["s0", "s1"]}],
          "mark": {"type": "rect", "opacity": 1, "fillOpacity": 0.5, "strokeWidth": 1},
          "encoding": {
            "y": {"field": "y0", "type": "quantitative", "scale": {"domain": [0.039, 1.571], "nice": false, "zero": false}, "axis": null},
            "y2": {"field": "y1"},
            "x": {"field": "s0", "type": "quantitative", "scale": {"domain": [0, 67.8], "nice": false}, "axis": null},
            "x2": {"field": "s1"},
            "fill": {"field": "group", "type": "nominal", "scale": {"domain": ["Learning", "Rest"], "range": ["#F8766D", "#00BFC4"]},
              "legend": {"orient": "none", "legendX": -15, "legendY": 352, "direction": "horizontal", "title": null, "symbolType": "square", "symbolSize": 625, "symbolOpacity": 1, "symbolStrokeColor": "#555555", "symbolStrokeWidth": 1, "labelFont": "Liberation Sans", "labelFontSize": 24, "labelColor": "#000000", "labelOffset": 10, "columnPadding": 42, "labelLimit": 300,
                "encode": {"symbols": {"update": {"opacity": {"value": 1}, "fillOpacity": {"value": 1}}}}}},
            "stroke": {"field": "group", "type": "nominal", "scale": {"domain": ["Learning", "Rest"], "range": ["#F8766D", "#00BFC4"]}, "legend": null}
          }
        },
        {
          "data": {"name": "densSide"},
          "transform": [{"filter": "datum.panel == 'PRE'"}],
          "mark": {"type": "area", "orient": "horizontal", "fillOpacity": 0.3, "interpolate": "monotone"},
          "encoding": {
            "y": {"field": "y", "type": "quantitative"},
            "x": {"field": "d", "type": "quantitative", "stack": null},
            "fill": {"field": "group", "type": "nominal"}
          }
        },
        {
          "data": {"name": "densSide"},
          "transform": [{"filter": "datum.panel == 'PRE'"}],
          "mark": {"type": "line", "strokeWidth": 1.3, "interpolate": "monotone"},
          "encoding": {
            "y": {"field": "y", "type": "quantitative"},
            "x": {"field": "d", "type": "quantitative"},
            "order": {"field": "y", "type": "quantitative"},
            "stroke": {"field": "group", "type": "nominal"}
          }
        }
      ]
    },
    {
      "width": 356, "height": 318,
      "title": {"text": "POST average", "frame": "group", "offset": -33, "fontSize": 23, "fontWeight": "bold", "font": "Liberation Sans", "color": "#1a1a1a"},
      "layer": [
        {
          "data": {"name": "pts"},
          "transform": [{"filter": "datum.panel == 'POST'"}],
          "mark": {"type": "circle", "size": 85, "opacity": 1},
          "encoding": {
            "x": {"field": "glu", "type": "quantitative", "scale": {"domain": [6.348, 9.957], "nice": false, "zero": false}, "axis": {"title": "Glu concentration \u00a0(mM)", "values": [7, 8, 9], "format": "d", "labelPadding": 6, "titlePadding": 19}},
            "y": {"field": "gaba", "type": "quantitative", "scale": {"domain": [0.25, 1.506], "nice": false, "zero": false}, "axis": {"title": "GABA concentration (mM)", "titleFontSize": 21, "values": [0.25, 0.5, 0.75, 1.0, 1.25, 1.5], "format": ".2f", "labelPadding": 5, "titlePadding": 20}},
            "fill": {"field": "group", "type": "nominal", "scale": {"domain": ["Learning", "Rest"], "range": ["#F8766D", "#00BFC4"]},
              "legend": {"orient": "bottom-left", "offset": 3, "title": null, "symbolType": "square", "symbolSize": 400, "symbolOpacity": 1, "symbolStrokeColor": "#555555", "symbolStrokeWidth": 1, "labelFont": "Liberation Sans", "labelFontSize": 21, "labelFontWeight": "bold", "labelColor": "#1a1a1a", "labelOffset": 8, "labelLimit": 400, "rowPadding": 4,
                "labelExpr": "datum.value == 'Learning' ? 'r=.584, p=.002' : 'r=.774, p=.002'",
                "encode": {"symbols": {"update": {"opacity": {"value": 1}, "fillOpacity": {"value": 1}}}}}}
          }
        },
        {
          "data": {"name": "fit"},
          "transform": [{"filter": "datum.panel == 'POST' && datum.group == 'Rest'"}],
          "mark": {"type": "area", "opacity": 0.4},
          "encoding": {
            "x": {"field": "glu", "type": "quantitative"},
            "y": {"field": "lo", "type": "quantitative"},
            "y2": {"field": "hi"},
            "fill": {"field": "group", "type": "nominal"}
          }
        },
        {
          "data": {"name": "fit"},
          "transform": [{"filter": "datum.panel == 'POST' && datum.group == 'Rest'"}],
          "mark": {"type": "line", "strokeWidth": 2.5},
          "encoding": {
            "x": {"field": "glu", "type": "quantitative"},
            "y": {"field": "fit", "type": "quantitative"},
            "stroke": {"field": "group", "type": "nominal", "scale": {"domain": ["Learning", "Rest"], "range": ["#F8766D", "#00BFC4"]}, "legend": null}
          }
        },
        {
          "data": {"name": "fit"},
          "transform": [{"filter": "datum.panel == 'POST' && datum.group == 'Learning'"}],
          "mark": {"type": "area", "opacity": 0.4},
          "encoding": {
            "x": {"field": "glu", "type": "quantitative"},
            "y": {"field": "lo", "type": "quantitative"},
            "y2": {"field": "hi"},
            "fill": {"field": "group", "type": "nominal"}
          }
        },
        {
          "data": {"name": "fit"},
          "transform": [{"filter": "datum.panel == 'POST' && datum.group == 'Learning'"}],
          "mark": {"type": "line", "strokeWidth": 2.5},
          "encoding": {
            "x": {"field": "glu", "type": "quantitative"},
            "y": {"field": "fit", "type": "quantitative"},
            "stroke": {"field": "group", "type": "nominal"}
          }
        }
      ]
    },
    {
      "width": 60, "height": 318,
      "layer": [
        {
          "data": {"name": "histSide"},
          "transform": [{"filter": "datum.panel == 'POST'"}, {"stack": "n", "groupby": ["y0"], "sort": [{"field": "group", "order": "ascending"}], "as": ["s0", "s1"]}],
          "mark": {"type": "rect", "opacity": 1, "fillOpacity": 0.5, "strokeWidth": 1},
          "encoding": {
            "y": {"field": "y0", "type": "quantitative", "scale": {"domain": [0.25, 1.506], "nice": false, "zero": false}, "axis": null},
            "y2": {"field": "y1"},
            "x": {"field": "s0", "type": "quantitative", "scale": {"domain": [-1.2, 16.8], "nice": false, "zero": false}, "axis": null},
            "x2": {"field": "s1"},
            "fill": {"field": "group", "type": "nominal", "scale": {"domain": ["Learning", "Rest"], "range": ["#F8766D", "#00BFC4"]}, "legend": null},
            "stroke": {"field": "group", "type": "nominal", "scale": {"domain": ["Learning", "Rest"], "range": ["#F8766D", "#00BFC4"]}, "legend": null}
          }
        },
        {
          "data": {"name": "densSide"},
          "transform": [{"filter": "datum.panel == 'POST'"}],
          "mark": {"type": "area", "orient": "horizontal", "fillOpacity": 0.3, "interpolate": "monotone"},
          "encoding": {
            "y": {"field": "y", "type": "quantitative"},
            "x": {"field": "d", "type": "quantitative", "stack": null},
            "fill": {"field": "group", "type": "nominal"}
          }
        },
        {
          "data": {"name": "densSide"},
          "transform": [{"filter": "datum.panel == 'POST'"}],
          "mark": {"type": "line", "strokeWidth": 1.3, "interpolate": "monotone"},
          "encoding": {
            "y": {"field": "y", "type": "quantitative"},
            "x": {"field": "d", "type": "quantitative"},
            "order": {"field": "y", "type": "quantitative"},
            "stroke": {"field": "group", "type": "nominal"}
          }
        }
      ]
    }
  ]
}
